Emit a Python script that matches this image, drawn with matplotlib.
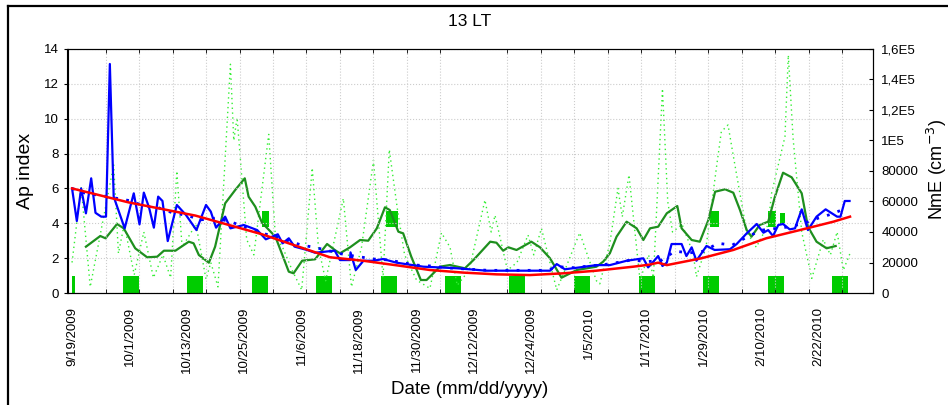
import numpy as np
import pandas as pd
import matplotlib
matplotlib.use('Agg')
import matplotlib.pyplot as plt
from matplotlib.lines import Line2D

plt.rcParams['font.family'] = ['Liberation Sans', 'DejaVu Sans']

start = pd.Timestamp('2009-09-19')

# Ap index (daily), days since 9/19/2009
ap_days = [0, 1, 1.9, 2.9, 4, 4.9, 6.1, 7.1, 7.9, 8.7, 11, 12.9, 14.1, 15, 16.1, 17.1, 18, 18.9, 20,
           21.9, 23.8, 26, 28, 29, 30.1, 32, 33.1, 35.9, 38.7, 40.5, 41.8, 43, 44, 45.3, 46.5, 49.1,
           50.8, 54.9, 56, 58.1, 58.2, 59.3, 60.9, 63, 65, 67.8, 73.4, 80.4, 86.6, 99.9, 101.3, 103,
           106.1, 109.6, 112.4, 115.9, 119.4, 120.4, 121.5, 122.5, 123.4, 124.3, 125.3, 127.4, 128.4,
           129.5, 130.5, 132.6, 134.3, 137.5, 138.9, 141, 143.1, 144.5, 145.5, 146.5, 147.6, 148.6,
           150, 151.1, 152.5, 153.8, 155.6, 157.5, 159.9, 160.6, 161.5, 162.5]
ap_vals = [6.0, 4.13, 6.0, 4.57, 6.58, 4.6, 4.38, 4.38, 13.14, 5.53, 3.71, 5.72, 3.94, 5.76, 4.9, 3.75,
           5.53, 5.28, 2.98, 5.05, 4.48, 3.61, 5.05, 4.67, 3.75, 4.38, 3.71, 3.9, 3.61, 3.08, 3.23,
           3.37, 2.85, 3.14, 2.66, 2.47, 2.31, 2.43, 1.89, 1.89, 2.33, 1.32, 1.85, 1.85, 1.95, 1.74,
           1.51, 1.42, 1.28, 1.28, 1.66, 1.36, 1.47, 1.6, 1.6, 1.85, 1.99, 1.47, 1.8, 2.12, 1.55,
           1.74, 2.81, 2.81, 2.12, 2.62, 1.85, 2.7, 2.47, 2.51, 2.81, 3.42, 3.96, 3.46, 3.61, 3.27,
           3.9, 3.96, 3.65, 3.71, 4.8, 3.61, 4.38, 4.8, 4.38, 4.38, 5.28, 5.28]

# smoothed Ap (dotted blue)
ap_s_days = [0, 3, 6, 9, 12, 15, 18, 21, 24, 27, 30, 33, 36, 39, 42, 45, 48, 51, 54, 57, 60, 63, 66,
             69, 72, 75, 78, 81, 84, 87, 90, 93, 96, 99, 102, 105, 108, 111, 114, 117, 120, 123, 126,
             129, 132, 135, 138, 141, 144, 147, 150, 153, 156, 159, 162]
ap_s_vals = [6.0, 5.7, 5.6, 5.45, 5.3, 5.0, 4.9, 4.6, 4.45, 4.2, 4.3, 4.1, 3.8, 3.45, 3.3, 3.0, 2.75,
             2.6, 2.4, 2.2, 2.08, 1.95, 1.9, 1.75, 1.6, 1.55, 1.45, 1.4, 1.35, 1.3, 1.3, 1.3, 1.3, 1.3,
             1.5, 1.45, 1.55, 1.62, 1.75, 1.9, 1.8, 1.85, 2.4, 2.3, 2.4, 2.85, 2.75, 3.2, 3.6, 3.7,
             3.8, 4.0, 4.3, 4.55, 4.9]

# Ap trend (red)
trend_days = [0, 11.8, 25.8, 39.7, 53.9, 60.9, 67.8, 74.8, 81.8, 88.7, 95.7, 102.7, 109.6, 117.3,
              120.5, 122.5, 124.3, 131.5, 138.2, 145.1, 152.1, 159.1, 162.6]
trend_vals = [6.0, 5.2, 4.44, 3.37, 2.05, 1.85, 1.59, 1.32, 1.17, 1.07, 1.03, 1.13, 1.28, 1.51,
              1.62, 1.74, 1.6, 1.99, 2.47, 3.14, 3.61, 4.09, 4.38]

# NmE smoothed (green solid)
nme_s_days = [2.9, 5.9, 7, 9.4, 10.8, 13.2, 15.7, 17.8, 19.2, 21.6, 24.4, 25.4, 26.5, 28.6, 29.9,
              32, 34.1, 36.1, 36.9, 38.3, 39.7, 42.5, 45.3, 46.3, 48.1, 50.8, 53.3, 55, 56, 58.1,
              60.2, 61.9, 63.7, 65.4, 66.4, 68.2, 69.2, 70.9, 72.9, 74.1, 76.9, 79, 82.1, 83.9, 87.4,
              88.7, 90.1, 91.2, 92.9, 96, 97.8, 99.9, 102.3, 105.5, 109.6, 111, 112.4, 113.8, 115.9,
              118, 119.4, 120.8, 122.5, 124.3, 126.5, 127.4, 129.5, 131.2, 133, 134.4, 136.5, 138.2,
              139.6, 141, 142, 143.7, 145.5, 146.9, 148.6, 150.4, 152.5, 153.8, 155.6, 157.7, 159.6]
nme_s_vals = [30360, 37380, 35870, 45240, 42420, 29310, 23410, 23800, 27740, 27740, 33640, 32590,
              24920, 19870, 30360, 58810, 67540, 75200, 63140, 56590, 46100, 36920, 13970, 12920,
              21180, 22100, 32130, 28000, 26030, 29960, 34750, 34290, 42420, 56190, 54420, 40200,
              39150, 23800, 8520, 8520, 17250, 18360, 16190, 21640, 33640, 32980, 27740, 29960, 28200,
              33640, 29960, 22750, 10030, 15080, 17250, 20520, 26030, 36920, 46750, 42420, 34750,
              42420, 43470, 52260, 57040, 42420, 34750, 33640, 47870, 66420, 68000, 65770, 54420,
              41310, 36920, 44590, 46750, 63140, 78880, 75860, 65370, 43470, 33640, 29310, 30820]

# NmE raw (light green dotted)
nme_days = [0, 1.9, 3.8, 8.7, 9.7, 10.9, 13, 15, 17, 19, 20.6, 21.9, 23, 25.9, 28, 29, 30.5, 33.1,
            33.8, 34.5, 36.5, 38, 41.1, 42.5, 44, 46, 48, 50.2, 51.5, 53, 56.7, 58.4, 60.5, 63, 65,
            66.3, 68, 69.5, 72, 74.8, 77.2, 79, 80.5, 83, 86.3, 87.6, 88.4, 91, 93, 95.3, 96.5, 98.1,
            101.3, 103, 106.1, 109.6, 110.3, 112.4, 114.1, 115, 116.4, 118.7, 120.5, 121.5, 123.4,
            124.5, 125.5, 127.5, 129.8, 130.5, 132.5, 134.7, 135.7, 137.1, 138.2, 141, 143, 145.5,
            146.2, 149, 149.7, 150.7, 152.5, 154.6, 157, 158.5, 159.9, 161.2, 162.6]
nme_vals = [20000, 70000, 4000, 84000, 26000, 45000, 12000, 40000, 10000, 25000, 10000, 80000, 30000,
            45000, 9000, 20000, 4000, 150000, 100000, 115000, 35000, 25000, 104000, 37000, 30000,
            15000, 2000, 82000, 30000, 8000, 62000, 4000, 30000, 87000, 10000, 94000, 55000, 25000,
            8500, 3000, 39500, 30000, 5000, 15000, 61000, 40000, 51000, 15000, 20000, 38000, 25000,
            42400, 2000, 15000, 39500, 8000, 6000, 32600, 68600, 50000, 77400, 8500, 25000, 10000,
            134000, 60000, 40000, 45000, 26000, 10700, 30000, 82800, 105800, 110200, 90000, 40000,
            30000, 45000, 65400, 102500, 156000, 101400, 40000, 9600, 35000, 25000, 40000, 15000,
            26000]

# green markers (bars at the bottom and raised blocks)
bar_days = [0, 10.66, 24.1, 37.6, 51.0, 64.6, 78.0, 91.3, 104.9, 118.5, 131.9, 145.5, 158.8]
bar_widths = [0.7, 3.3, 3.3, 3.3, 3.3, 3.3, 3.3, 3.3, 3.3, 3.3, 3.3, 3.3, 3.3]
bar_top = 11150
block_days = [39.7, 65.6, 133.3, 145.5, 148.0]
block_widths = [1.4, 2.5, 1.9, 1.7, 1.0]
block_bottom = [43300, 43300, 43300, 43300, 44500]
block_top = [53800, 53800, 53800, 53800, 52500]

tick_labels = ['9/19/2009', '10/1/2009', '10/13/2009', '10/25/2009', '11/6/2009', '11/18/2009',
               '11/30/2009', '12/12/2009', '12/24/2009', '1/5/2010', '1/17/2010', '1/29/2010',
               '2/10/2010', '2/22/2010']
nme_ticks = [0, 20000, 40000, 60000, 80000, 100000, 120000, 140000, 160000]
nme_labels = ['0', '20000', '40000', '60000', '80000', '1E5', '1,2E5', '1,4E5', '1,6E5']


def todate(d):
    return start + pd.to_timedelta(np.array(d, dtype=float), unit='D')


fig = plt.figure(figsize=(9.48, 4.05), dpi=100)
ax = fig.add_axes([67.5 / 948, 1 - 293 / 405, (873 - 67.5) / 948, (293 - 49) / 405])
ax2 = ax.twinx()
ax2.set_zorder(ax.get_zorder() - 1)
ax.patch.set_visible(False)

# NmE side
ax2.bar(todate(bar_days), bar_top, width=bar_widths, align='edge', color='#00cc00', zorder=1)
ax2.bar(todate(block_days), np.array(block_top) - np.array(block_bottom), bottom=block_bottom,
        width=block_widths, align='edge', color='#00cc00', zorder=1)
ax2.plot(todate(nme_days), nme_vals, color='#33ee33', lw=1.0, ls=(0, (1, 2.5)), zorder=2)
ax2.plot(todate(nme_s_days), nme_s_vals, color='#1e8f1e', lw=1.6, zorder=3)
ax2.set_ylim(0, 160000)
ax2.set_yticks(nme_ticks)
ax2.set_yticklabels(nme_labels)
ax2.tick_params(axis='y', direction='in', length=3, pad=6, labelsize=9.5)

# Ap side
ax.plot(todate(ap_s_days), ap_s_vals, color='#0000ff', lw=2.0, ls=(0, (1, 3)), zorder=3)
ax.plot(todate(ap_days), ap_vals, color='#0000ff', lw=1.6, zorder=4)
ax.plot(todate(trend_days), trend_vals, color='#ff0000', lw=1.8, zorder=5)
ax.set_ylim(0, 14)
ax.set_yticks(range(0, 15, 2))
ax.set_xlim(start - pd.Timedelta(days=0.95), start + pd.Timedelta(days=167.4))

tick_pos = pd.to_datetime(tick_labels, format='%m/%d/%Y')
ax.set_xticks(tick_pos)
ax.set_xticklabels(tick_labels, rotation=90, va='top', ha='center')
ax.set_xticks(pd.date_range(start, periods=24, freq='7D'), minor=True)
ax.tick_params(axis='x', which='major', length=0, pad=10, labelsize=9.5)
ax.tick_params(axis='x', which='minor', direction='in', length=3, top=True)
ax.tick_params(axis='y', direction='out', length=3, pad=3, labelsize=9.5)
ax.grid(True, which='minor', axis='x', color='#cccccc', ls=':', lw=0.8)
ax.grid(True, which='major', axis='y', color='#cccccc', ls=':', lw=0.8)
ax.grid(False, which='major', axis='x')

fig.text(470 / 948, 1 - 22 / 405, '13 LT', ha='center', va='center', fontsize=12.5)
fig.text(470 / 948, 1 - 389 / 405, 'Date (mm/dd/yyyy)', ha='center', va='center', fontsize=13.5)
fig.text(25 / 948, 1 - 171 / 405, 'Ap index', rotation=90, ha='center', va='center', fontsize=14)
fig.text(937 / 948, 1 - 169 / 405, 'NmE (cm$^{-3}$)', rotation=90, ha='center', va='center',
         fontsize=13)

# outer frame
fig.add_artist(Line2D([7.5 / 948, 1], [1 - 6 / 405, 1 - 6 / 405], color='black', lw=1.6,
                      transform=fig.transFigure))
fig.add_artist(Line2D([7.5 / 948, 7.5 / 948], [0, 1 - 6 / 405], color='black', lw=1.6,
                      transform=fig.transFigure))

fig.savefig('out.png', dpi=100)
